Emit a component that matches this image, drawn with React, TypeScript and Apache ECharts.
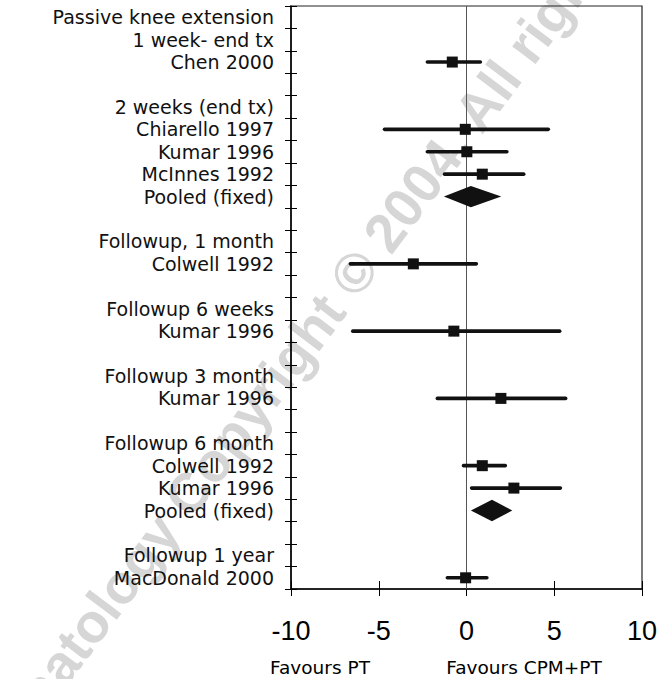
import React, { useEffect, useRef } from "react";
import * as echarts from "echarts";

const rowLabels = [
  "Passive knee extension",
  "1 week- end tx",
  "Chen 2000",
  "",
  "2 weeks (end tx)",
  "Chiarello 1997",
  "Kumar 1996",
  "McInnes 1992",
  "Pooled (fixed)",
  "",
  "Followup, 1 month",
  "Colwell 1992",
  "",
  "Followup 6 weeks",
  "Kumar 1996",
  "",
  "Followup 3 month",
  "Kumar 1996",
  "",
  "Followup 6 month",
  "Colwell 1992",
  "Kumar 1996",
  "Pooled (fixed)",
  "",
  "Followup 1 year",
  "MacDonald 2000",
];

// individual studies (row index in rowLabels, mean difference, 95% CI)
const studyRows = [2, 5, 6, 7, 11, 14, 17, 20, 21, 25];
const studyMeans = [-0.81, -0.07, 0.02, 0.9, -3.03, -0.72, 1.96, 0.9, 2.7, -0.05];
const studyLow = [-2.23, -4.67, -2.23, -1.25, -6.62, -6.48, -1.66, -0.17, 0.29, -1.09];
const studyHigh = [0.79, 4.66, 2.3, 3.26, 0.56, 5.31, 5.65, 2.21, 5.35, 1.16];

// pooled estimates (diamonds)
const pooledRows = [8, 22];
const pooledMeans = [0.25, 1.45];
const pooledLow = [-1.29, 0.25];
const pooledHigh = [1.98, 2.61];

const xMin = -10;
const xMax = 10;
const xInterval = 5;

const favourLabels = ["Favours PT", "Favours CPM+PT"];
const watermarkText = "Rheumatology Copyright \u00a9 2004. All rights reserved.";

export default function App() {
  const ref = useRef<HTMLDivElement>(null);

  useEffect(() => {
    if (!ref.current) return;
    const chart = echarts.init(ref.current, undefined, { renderer: "svg" });

    const studyData = studyRows.map((r, i) => [r, studyMeans[i], studyLow[i], studyHigh[i]]);
    const pooledData = pooledRows.map((r, i) => [r, pooledMeans[i], pooledLow[i], pooledHigh[i]]);

    const tickStyle = { color: "#000", width: 1 };

    const option: any = {
      animation: false,
      backgroundColor: "#fff",
      grid: {
        left: 291,
        right: 30,
        top: 6,
        bottom: 90,
        show: true,
        borderColor: "#222",
        borderWidth: 1.2,
        backgroundColor: "transparent",
        containLabel: false,
        outerBoundsMode: "none",
      },
      xAxis: [
        {
          type: "value",
          min: xMin,
          max: xMax,
          interval: xInterval,
          position: "bottom",
          axisLine: { show: true, onZero: false, lineStyle: { color: "#000", width: 1.5 } },
          axisTick: { show: true, length: 7, lineStyle: tickStyle },
          axisLabel: {
            fontFamily: "Liberation Sans",
            fontSize: 27,
            color: "#000",
            margin: 28,
          },
          splitLine: { show: false },
        },
        {
          type: "value",
          min: xMin,
          max: xMax,
          interval: xInterval,
          position: "top",
          offset: -583,
          axisLine: { show: false, onZero: false },
          axisTick: { show: true, length: 8, lineStyle: tickStyle },
          axisLabel: { show: false },
          splitLine: { show: false },
        },
      ],
      yAxis: [
        {
          type: "category",
          inverse: true,
          data: rowLabels,
          position: "left",
          axisLine: { show: true, onZero: false, lineStyle: { color: "#000", width: 1.5 } },
          axisTick: { show: true, interval: 0, length: 6, lineStyle: tickStyle },
          axisLabel: {
            interval: 0,
            fontFamily: "DejaVu Sans",
            fontSize: 19,
            lineHeight: 21,
            color: "#111",
            margin: 17,
          },
          splitLine: { show: false },
        },
        {
          type: "category",
          inverse: true,
          data: rowLabels,
          position: "right",
          offset: -351,
          axisLine: { show: false, onZero: false },
          axisTick: { show: true, interval: 0, length: 6, lineStyle: tickStyle },
          axisLabel: { show: false },
          splitLine: { show: false },
        },
      ],
      series: [
        {
          type: "custom",
          name: "zero",
          coordinateSystem: "cartesian2d",
          xAxisIndex: 0,
          yAxisIndex: 0,
          data: [[0, 0]],
          encode: { x: 0, y: 1 },
          z: 1,
          silent: true,
          renderItem: (params: any, api: any) => {
            const p = api.coord([api.value(0), 0]);
            const cs = params.coordSys;
            return {
              type: "line",
              shape: { x1: p[0], y1: cs.y, x2: p[0], y2: cs.y + cs.height },
              style: { stroke: "#555", lineWidth: 1 },
            };
          },
        },
        {
          type: "custom",
          name: "studies",
          coordinateSystem: "cartesian2d",
          xAxisIndex: 0,
          yAxisIndex: 0,
          data: studyData,
          encode: { x: [1, 2, 3], y: 0 },
          z: 3,
          renderItem: (params: any, api: any) => {
            const row = api.value(0);
            const pm = api.coord([api.value(1), row]);
            const pl = api.coord([api.value(2), row]);
            const ph = api.coord([api.value(3), row]);
            const s = 11;
            return {
              type: "group",
              children: [
                {
                  type: "line",
                  shape: { x1: pl[0], y1: pl[1], x2: ph[0], y2: ph[1] },
                  style: { stroke: "#111", lineWidth: 3.6, lineCap: "round" },
                },
                {
                  type: "rect",
                  shape: { x: pm[0] - s / 2, y: pm[1] - s / 2, width: s, height: s },
                  style: { fill: "#111" },
                },
              ],
            };
          },
        },
        {
          type: "custom",
          name: "pooled",
          coordinateSystem: "cartesian2d",
          xAxisIndex: 0,
          yAxisIndex: 0,
          data: pooledData,
          encode: { x: [1, 2, 3], y: 0 },
          z: 3,
          renderItem: (params: any, api: any) => {
            const row = api.value(0);
            const pm = api.coord([api.value(1), row]);
            const pl = api.coord([api.value(2), row]);
            const ph = api.coord([api.value(3), row]);
            const h = api.size([0, 1])[1] * 0.95;
            return {
              type: "polygon",
              shape: {
                points: [
                  [pl[0], pm[1]],
                  [pm[0], pm[1] - h / 2],
                  [ph[0], pm[1]],
                  [pm[0], pm[1] + h / 2],
                ],
              },
              style: { fill: "#111" },
            };
          },
        },
      ],
      graphic: [
        {
          type: "text",
          x: 352,
          y: 276,
          rotation: (53 * Math.PI) / 180,
          z: -10,
          silent: true,
          style: {
            text: watermarkText,
            font: 'bold 55px "Liberation Sans"',
            fill: "#d6d6d6",
            align: "center",
            verticalAlign: "middle",
            textAlign: "center",
            textVerticalAlign: "middle",
          },
        },
        {
          type: "text",
          x: 320,
          y: 667,
          style: {
            text: favourLabels[0],
            font: '18.5px "DejaVu Sans"',
            fill: "#000",
            align: "center",
            verticalAlign: "middle",
            textAlign: "center",
            textVerticalAlign: "middle",
          },
        },
        {
          type: "text",
          x: 524,
          y: 667,
          style: {
            text: favourLabels[1],
            font: '18.5px "DejaVu Sans"',
            fill: "#000",
            align: "center",
            verticalAlign: "middle",
            textAlign: "center",
            textVerticalAlign: "middle",
          },
        },
      ],
    };

    chart.setOption(option);
    return () => {
      chart.dispose();
    };
  }, []);

  return (
    <div
      ref={ref}
      style={{ position: "fixed", left: 0, top: 0, width: 672, height: 679, background: "#fff" }}
    />
  );
}
